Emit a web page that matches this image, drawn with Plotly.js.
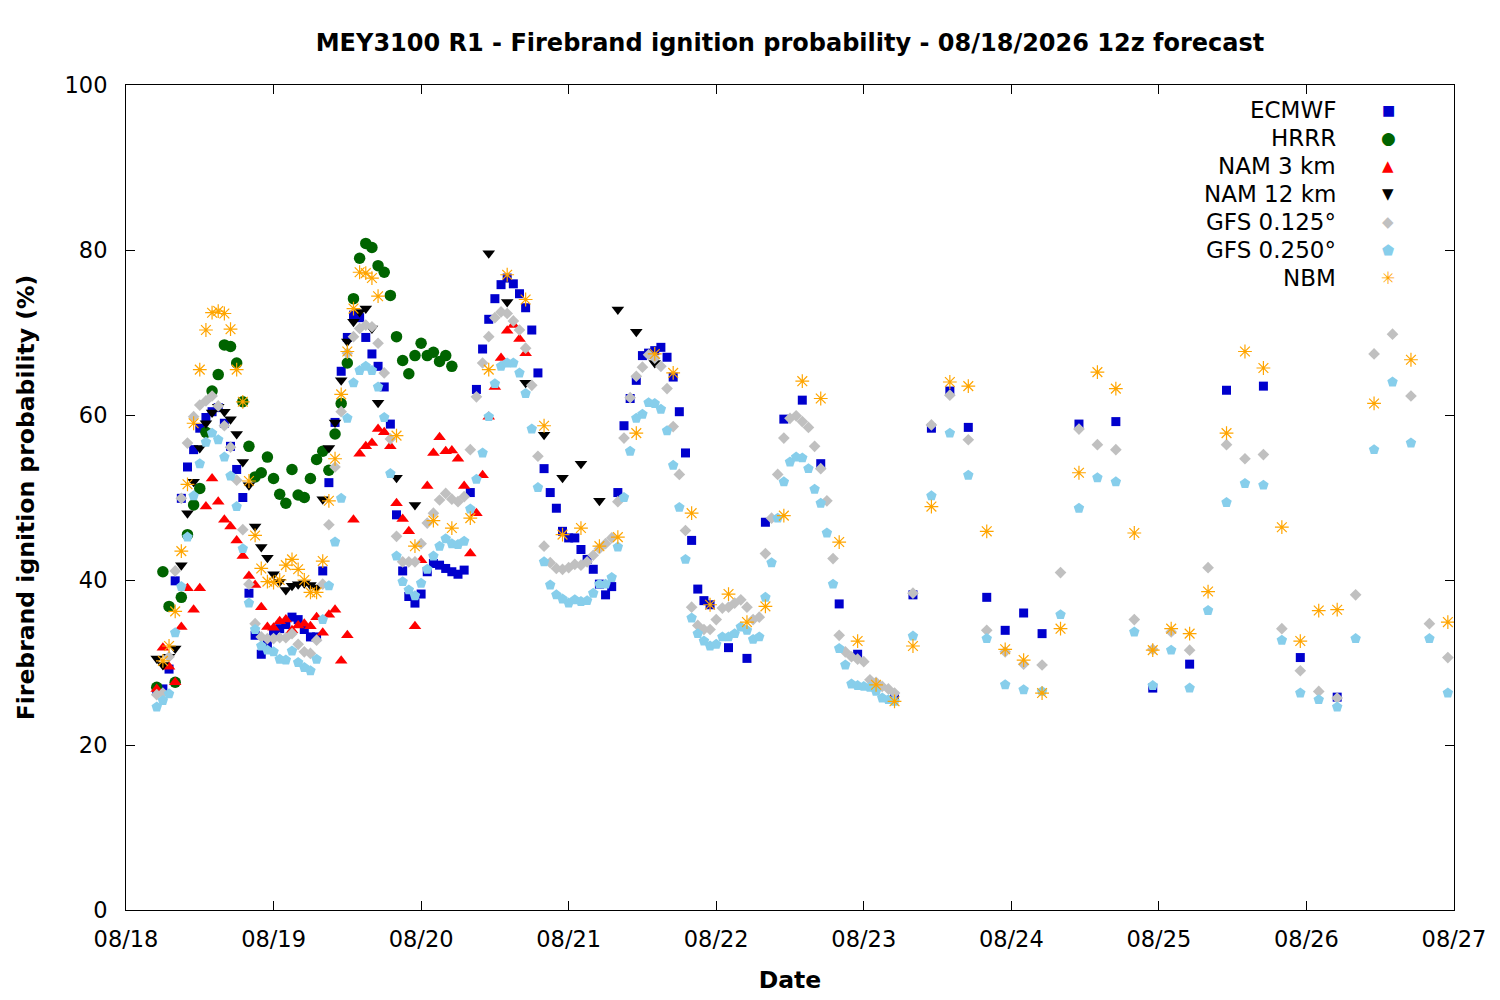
<!DOCTYPE html>
<html>
<head>
<meta charset="utf-8">
<script src="https://cdn.plot.ly/plotly-3.0.1.min.js"></script>
<style>
  html, body { margin: 0; padding: 0; background: #ffffff; }
  #chart { width: 1500px; height: 1000px; }
</style>
</head>
<body>
<div id="chart"></div>
<script>
// ---------------- DATA (hours since 08/18/2026 00:00 local, values in %) ----------------
function seq(a, b, step) { const out = []; for (let h = a; h <= b; h += step) out.push(h); return out; }

const seriesNames = ["ECMWF", "HRRR", "NAM 3 km", "NAM 12 km", "GFS 0.125°", "GFS 0.250°", "NBM"];
const dayTicks = ["08/18", "08/19", "08/20", "08/21", "08/22", "08/23", "08/24", "08/25", "08/26", "08/27"];

const ecmwfHours = seq(5, 95, 1).concat(seq(98, 149, 3), seq(155, 197, 6));
const ecmwfVals = [
  26.5, 26.8, 29.2, 39.9, 49.9, 53.7, 55.8, 58.4, 59.7, 60.4,
  60.9, 59.0, 56.2, 53.4, 50.0, 38.4, 33.3, 31.0, 32.3, 33.5,
  34.1, 34.6, 35.5, 35.2, 34.0, 33.1, 33.1, 41.1, 51.8, 59.1,
  65.3, 69.4, 72.1, 71.8, 69.4, 67.4, 65.9, 63.4, 58.9, 47.9,
  41.1, 38.0, 37.2, 38.3, 41.0, 42.0, 41.8, 41.4, 41.0, 40.7,
  41.2, 50.6, 63.1, 68.0, 71.6, 74.1, 75.8, 76.6, 75.9, 74.7,
  73.0, 70.3, 65.1, 53.5, 50.6, 48.7, 45.9, 45.1, 45.1, 43.7,
  42.5, 41.3, 39.5, 38.2, 39.2, 50.6, 58.7, 62.0, 64.2, 67.2,
  67.5, 67.8, 68.2, 67.0, 64.6, 60.4, 55.4, 44.8, 38.9, 37.5, 37.0,
  31.8, 30.5, 47.0, 59.5, 61.8, 54.1, 37.1, 31.0, 27.2, 25.9,
  38.2, 58.4, 62.9, 58.5, 37.9, 33.9, 36.0, 33.5,
  58.9, 59.2, 26.9, 29.8, 63.0, 63.5, 30.6, 25.8
];

const hrrrHours = seq(5, 53, 1);
const hrrrVals = [
  27.0, 41.0, 36.8, 27.6, 37.9, 45.5, 49.1, 51.1, 57.9, 62.9,
  64.9, 68.5, 68.3, 66.3, 61.6, 56.2, 52.5, 53.0, 54.9, 52.3,
  50.4, 49.3, 53.4, 50.3, 50.0, 52.3, 54.6, 55.6, 53.3, 57.7,
  61.4, 66.3, 74.1, 79.0, 80.8, 80.3, 78.1, 77.3, 74.5, 69.5,
  66.6, 65.0, 67.2, 68.7, 67.2, 67.6, 66.5, 67.2, 65.9
];

const nam3Hours = seq(5, 65, 1);
const nam3Vals = [
  26.8, 31.8, 29.5, 27.6, 34.3, 39.0, 36.4, 39.0, 48.9, 52.3,
  49.5, 47.3, 46.5, 44.8, 42.9, 40.5, 39.4, 36.7, 34.3, 34.2,
  35.0, 35.2, 33.9, 34.5, 34.7, 34.4, 35.5, 33.6, 35.8, 36.4,
  30.2, 33.3, 47.3, 55.3, 56.2, 56.6, 58.3, 57.9, 56.2, 49.3,
  47.4, 45.9, 34.4, 42.4, 51.4, 55.4, 57.3, 55.6, 55.7, 54.7,
  51.4, 43.2, 48.1, 52.7, 59.8, 63.4, 66.9, 70.2, 70.9, 69.2, 67.5
];

const nam12Hours = seq(5, 41, 1).concat([44, 47, 59, 62, 65, 68, 71, 74, 77, 80, 83, 86]);
const nam12Vals = [
  30.5, 29.7, 30.7, 31.7, 41.8, 48.1, 51.9, 56.0, 59.0, 60.3,
  61.0, 60.4, 59.5, 57.7, 54.3, 51.5, 46.5, 44.0, 42.7, 40.7,
  39.8, 38.8, 39.3, 39.5, 39.6, 39.4, 39.1, 49.8, 56.0, 59.1,
  64.2, 68.9, 71.3, 72.5, 72.9, 70.5, 61.5,
  52.4, 49.1, 79.6, 73.7, 63.9, 57.6, 52.4, 54.1, 49.6, 72.8, 70.1, 66.3
];

const gfs125Hours = seq(5, 125, 1).concat(seq(128, 215, 3));
const gfs125Vals = [
  26.1, 26.3, 30.7, 41.1, 49.9, 56.6, 59.8, 61.2, 61.7, 62.3,
  61.1, 58.7, 56.1, 52.1, 46.1, 39.5, 34.7, 33.1, 32.9, 32.9,
  33.0, 33.0, 33.5, 32.2, 31.3, 31.1, 32.7, 39.5, 46.7, 53.7,
  60.4, 67.5, 69.5, 70.5, 70.9, 70.7, 68.7, 65.1, 57.1, 45.3,
  42.2, 42.2, 42.2, 44.4, 46.9, 48.1, 49.7, 50.5, 49.8, 49.5,
  50.1, 55.8, 62.2, 66.3, 69.5, 71.8, 72.5, 72.3, 71.4, 70.3,
  68.1, 63.6, 55.0, 44.1, 42.1, 41.4, 41.3, 41.5, 41.9, 41.8,
  42.2, 43.0, 43.8, 44.4, 45.1, 49.5, 57.2, 62.1, 64.7, 65.8,
  67.3, 66.9, 65.9, 63.2, 58.6, 52.8, 46.0, 36.7, 34.5, 34.0,
  34.0, 35.2, 36.6, 36.7, 37.2, 37.6, 36.7, 35.2, 35.5, 43.2,
  47.5, 52.8, 57.2, 59.6, 59.9, 59.2, 58.5, 56.2, 53.5, 49.6,
  42.6, 33.3, 31.3, 30.7, 30.4, 30.1, 27.9, 27.6, 27.1, 26.8, 26.3,
  38.4, 58.8, 62.4, 57.0, 33.9, 31.3, 29.8, 29.7, 40.9, 58.3,
  56.4, 55.8, 35.2, 31.6, 33.7, 31.5, 41.5, 56.4, 54.7, 55.2,
  34.1, 29.0, 26.5, 25.7, 38.2, 67.4, 69.8, 62.3, 34.7, 30.6
];

const gfs250Hours = seq(5, 125, 1).concat(seq(128, 215, 3));
const gfs250Vals = [
  24.6, 25.4, 26.2, 33.6, 39.2, 45.2, 50.2, 54.1, 56.7, 57.8,
  57.0, 54.9, 52.6, 48.9, 43.8, 37.2, 34.0, 32.0, 31.5, 31.3,
  30.4, 30.3, 31.4, 30.0, 29.4, 29.0, 30.4, 35.2, 39.3, 44.6,
  49.9, 59.6, 63.9, 65.4, 65.9, 65.4, 63.4, 59.7, 52.9, 42.9,
  39.8, 38.8, 38.1, 39.6, 41.3, 42.9, 44.1, 45.0, 44.4, 44.3,
  44.7, 48.6, 52.2, 55.4, 59.8, 63.8, 65.9, 66.3, 66.3, 65.1,
  62.6, 58.3, 51.2, 42.2, 39.4, 38.2, 37.7, 37.2, 37.6, 37.4,
  37.5, 38.4, 39.5, 39.5, 40.3, 44.0, 50.0, 55.6, 59.6, 60.1,
  61.5, 61.4, 60.7, 58.1, 53.9, 48.8, 42.5, 35.4, 33.5, 32.6,
  32.0, 32.2, 33.1, 33.1, 33.5, 34.3, 33.9, 32.8, 33.1, 37.9,
  42.1, 47.5, 51.9, 54.3, 54.9, 54.8, 53.5, 51.0, 49.3, 45.7,
  39.5, 31.7, 29.7, 27.4, 27.2, 27.1, 27.0, 26.5, 25.7, 25.5, 25.3,
  33.2, 50.2, 57.8, 52.7, 32.9, 27.3, 26.7, 26.5, 35.8, 48.7,
  52.4, 51.9, 33.7, 27.2, 31.5, 26.9, 36.3, 49.4, 51.7, 51.5,
  32.7, 26.3, 25.5, 24.6, 32.9, 55.8, 64.0, 56.6, 32.9, 26.3
];

const nbmHours = seq(6, 41, 1).concat(seq(44, 197, 3), [203, 209, 215]);
const nbmVals = [
  30.2, 32.0, 36.2, 43.5, 51.6, 59.0, 65.5, 70.3, 72.4,
  72.6, 72.3, 70.4, 65.5, 61.6, 52.0, 45.4, 41.4, 39.8, 39.7,
  40.0, 41.8, 42.5, 41.3, 40.0, 38.5, 38.5, 42.3, 49.6, 54.7,
  62.5, 67.7, 72.9, 77.3, 77.2, 76.6, 74.4,
  57.5, 44.1, 47.2, 46.3, 47.5, 65.5, 77.0, 74.0, 58.7, 45.5,
  46.3, 44.1, 45.2, 57.8, 67.4, 65.1, 48.1, 37.0, 38.3, 34.9,
  36.8, 47.8, 64.1, 62.0, 44.6, 32.6, 27.3, 25.3, 32.0, 48.9,
  64.0, 63.5, 45.9, 31.6, 30.3, 26.3, 34.1, 53.0, 65.2, 63.2,
  45.7, 31.5, 34.1, 33.5, 38.6, 57.8, 67.7, 65.7, 46.4, 32.6,
  36.3, 36.4,
  61.4, 66.7, 34.9
];

// ---------------- BUILD ----------------
const BASE = Date.UTC(2026, 7, 18, 0, 0, 0);
function toDate(h) {
  return new Date(BASE + h * 3600000).toISOString().slice(0, 16).replace('T', ' ');
}

const styles = [
  { symbol: 'square',        color: '#0000cd', size: 9 },
  { symbol: 'circle',        color: '#006400', size: 11.5 },
  { symbol: 'triangle-up',   color: '#ff0000', size: 11 },
  { symbol: 'triangle-down', color: '#000000', size: 11 },
  { symbol: 'diamond',       color: '#c0c0c0', size: 9 },
  { symbol: 'pentagon',      color: '#87ceeb', size: 11 },
  { symbol: 'asterisk-open', color: '#ffa500', size: 11.5 }
];
const hoursList = [ecmwfHours, hrrrHours, nam3Hours, nam12Hours, gfs125Hours, gfs250Hours, nbmHours];
const valsList  = [ecmwfVals, hrrrVals, nam3Vals, nam12Vals, gfs125Vals, gfs250Vals, nbmVals];

const traces = seriesNames.map((name, i) => {
  const st = styles[i];
  const n = Math.min(hoursList[i].length, valsList[i].length);
  if (hoursList[i].length !== valsList[i].length) console.warn(name, hoursList[i].length, valsList[i].length);
  const marker = { symbol: st.symbol, color: st.color, size: st.size, line: { width: 0 } };
  if (st.symbol === 'asterisk-open') marker.line = { color: st.color, width: 1.2 };
  return {
    type: 'scatter', mode: 'markers', name: name,
    x: hoursList[i].slice(0, n).map(toDate),
    y: valsList[i].slice(0, n),
    marker: marker, showlegend: false, cliponaxis: true
  };
});

const FONT = 'DejaVu Sans, Liberation Sans, sans-serif';
const tickVals = dayTicks.map((t, i) => toDate(i * 24));

// legend drawn gnuplot-style: text right-aligned, sample glyph to its right
const glyphs = ['■', '●', '▲', '▼', '◆', '⬟', '✳'];
const glyphSizes = [14, 17, 15, 15, 15, 14, 17];
const annotations = [];
seriesNames.forEach((name, i) => {
  const ypx = 110 + i * 28;
  const yp = (910 - ypx) / 825;
  annotations.push({
    xref: 'paper', yref: 'paper', x: (1338 - 126) / 1328, y: yp,
    xanchor: 'right', yanchor: 'middle', showarrow: false,
    text: name, font: { family: FONT, size: 23, color: '#000' }
  });
  annotations.push({
    xref: 'paper', yref: 'paper', x: (1388 - 126) / 1328, y: yp,
    xanchor: 'center', yanchor: 'middle', showarrow: false,
    text: glyphs[i], font: { family: FONT, size: glyphSizes[i], color: styles[i].color }
  });
});

const layout = {
  width: 1500, height: 1000,
  margin: { l: 126, r: 46, t: 85, b: 90, pad: 0 },
  paper_bgcolor: '#ffffff', plot_bgcolor: '#ffffff',
  font: { family: FONT, size: 23, color: '#000' },
  showlegend: false,
  title: {
    text: '<b>MEY3100 R1 - Firebrand ignition probability - 08/18/2026 12z forecast</b>',
    font: { family: FONT, size: 24, color: '#000' },
    x: 0.5, xref: 'paper', y: 1 - 43 / 1000, yref: 'container', yanchor: 'middle'
  },
  xaxis: {
    type: 'date',
    range: [toDate(0), toDate(216)],
    tickmode: 'array', tickvals: tickVals, ticktext: dayTicks,
    ticks: 'inside', ticklen: 9, tickwidth: 1, tickcolor: '#000',
    showline: true, linecolor: '#000', linewidth: 1, mirror: 'ticks',
    showgrid: false, zeroline: false,
    tickfont: { family: FONT, size: 22.5, color: '#000' },
    ticklabelstandoff: 9,
    title: { text: '<b>Date</b>', font: { family: FONT, size: 23.5, color: '#000' }, standoff: 20 }
  },
  yaxis: {
    range: [0, 100], tickmode: 'linear', tick0: 0, dtick: 20,
    ticks: 'inside', ticklen: 9, tickwidth: 1, tickcolor: '#000',
    showline: true, linecolor: '#000', linewidth: 1, mirror: 'ticks',
    showgrid: false, zeroline: false,
    tickfont: { family: FONT, size: 22.5, color: '#000' },
    ticklabelstandoff: 13,
    title: { text: '<b>Firebrand ignition probability (%)</b>', font: { family: FONT, size: 23.5, color: '#000' }, standoff: 23 }
  },
  annotations: annotations
};

Plotly.newPlot('chart', traces, layout, { displayModeBar: false, staticPlot: true });
</script>
</body>
</html>
